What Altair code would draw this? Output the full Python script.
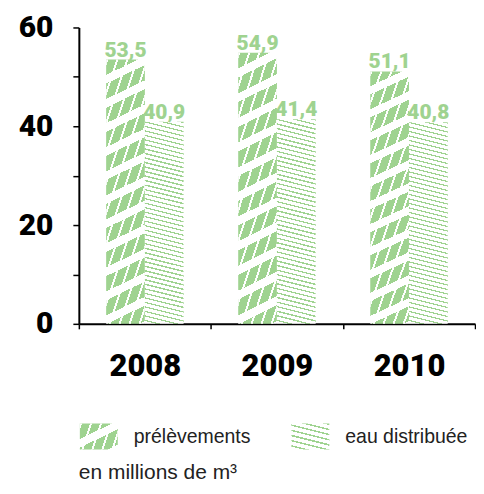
import math
import altair as alt
import pandas as pd

# ---- data ----
years = ["2008", "2009", "2010"]
prelevements = [53.5, 54.9, 51.1]
eau_distribuee = [40.9, 41.4, 40.8]
series = ["prélèvements", "eau distribuée"]
subtitle = "en millions de m³"

# ---- style ----
GREEN = "#9fd390"
WHITE = "#ffffff"
CLEAR = "rgba(255,255,255,0)"
HEAVY = "Roboto, Liberation Sans, sans-serif"
SANS = "Liberation Sans, Arial, sans-serif"
PLOT_W, PLOT_H = 397, 297
PX_PER_UNIT = PLOT_H / 60.0


def stripes(W, H, slope, period, frac, c_on, c_off):
    """Linear gradient (bbox units) that mimics a hatch of parallel stripes.
    slope: pixel dy/dx of the stripes (y down); period: perpendicular pixels."""
    vx, vy = -slope * W / H, 1.0
    corners = [(0, 0), (1, 0), (0, 1), (1, 1)]
    proj = [vx * u + vy * w for u, w in corners]
    pmin, pmax = min(proj), max(proj)
    u0, w0 = corners[proj.index(pmin)]
    L = pmax - pmin
    n2 = vx * vx + vy * vy
    x2 = u0 + vx * L / n2
    y2 = w0 + vy * L / n2
    g = math.hypot(vx / W, vy / H)
    dt = g * period / L
    stops = []
    k = 0
    while k * dt < 1:
        s = k * dt
        m = min(s + frac * dt, 1.0)
        e = min(s + dt, 1.0)
        stops += [
            {"offset": round(s, 5), "color": c_on},
            {"offset": round(m, 5), "color": c_on},
            {"offset": round(m, 5), "color": c_off},
            {"offset": round(e, 5), "color": c_off},
        ]
        k += 1
    return {"gradient": "linear", "x1": u0, "y1": w0, "x2": x2, "y2": y2, "stops": stops}


BAR_W = PLOT_W / 3 * 0.293
H_PREL = sum(prelevements) / 3 * PX_PER_UNIT
H_EAU = sum(eau_distribuee) / 3 * PX_PER_UNIT

g_prel = stripes(BAR_W, H_PREL, -0.48, 21.6, 0.64, GREEN, WHITE)
g_prel_cut = stripes(BAR_W, H_PREL, -3.0, 9.5, 0.2, WHITE, CLEAR)
g_eau = stripes(BAR_W, H_EAU, 0.25, 4.4, 0.3, GREEN, WHITE)

SW, SH = 38, 26
s_prel = stripes(SW, SH, -0.48, 21.6, 0.64, GREEN, WHITE)
s_prel_cut = stripes(SW, SH, -3.0, 9.5, 0.2, WHITE, CLEAR)
s_eau = stripes(SW, SH, 0.25, 5.0, 0.3, GREEN, WHITE)

rows = []
for i, y in enumerate(years):
    rows.append({"year": y, "series": series[0], "value": prelevements[i]})
    rows.append({"year": y, "series": series[1], "value": eau_distribuee[i]})
df = pd.DataFrame(rows)

x_enc = alt.X(
    "year:N",
    title=None,
    scale=alt.Scale(paddingInner=0, paddingOuter=0),
    axis=alt.Axis(
        labelAngle=0,
        labelFont=HEAVY,
        labelFontSize=31,
        labelFontWeight=900,
        labelColor="black",
        labelPadding=23,
        tickBand="extent",
        tickSize=5,
        tickWidth=1.5,
        tickColor="black",
        domainWidth=2,
        domainColor="black",
    ),
)
xo_enc = alt.XOffset(
    "series:N", scale=alt.Scale(domain=series, paddingInner=0, paddingOuter=0.705)
)
y_enc = alt.Y(
    "value:Q",
    title=None,
    scale=alt.Scale(domain=[0, 60], nice=False),
    axis=alt.Axis(
        values=[0, 10, 20, 30, 40, 50, 60],
        labelExpr="datum.value % 20 === 0 ? datum.label : ''",
        grid=False,
        labelFont=HEAVY,
        labelFontSize=30,
        labelFontWeight=900,
        labelColor="black",
        labelPadding=20,
        tickSize=6,
        tickWidth=1.5,
        tickColor="black",
        domainWidth=2,
        domainColor="black",
        minExtent=66,
    ),
)

base = alt.Chart(df).encode(x=x_enc, xOffset=xo_enc, y=y_enc)

prel = base.transform_filter(alt.datum.series == series[0])
eau = base.transform_filter(alt.datum.series == series[1])

bars = alt.layer(
    prel.mark_bar(fill=g_prel),
    prel.mark_bar(fill=g_prel_cut),
    eau.mark_bar(fill=g_eau),
    base.transform_calculate(
        label="replace(format(datum.value, '.1f'), '.', ',')"
    ).mark_text(
        baseline="alphabetic",
        dy=-3,
        font=HEAVY,
        fontSize=21,
        fontWeight=900,
        color=GREEN,
    ).encode(text="label:N"),
).properties(width=PLOT_W, height=PLOT_H)

# ---- legend built from the series list ----
leg = alt.Chart(pd.DataFrame({"series": series})).encode(
    x=alt.X(
        "series:N",
        scale=alt.Scale(type="point", domain=series, range=[20, 232], padding=0),
        axis=None,
    )
)
leg_prel = leg.transform_filter(alt.datum.series == series[0])
leg_eau = leg.transform_filter(alt.datum.series == series[1])
legend = alt.layer(
    leg_prel.mark_rect(width=SW, fill=s_prel),
    leg_prel.mark_rect(width=SW, fill=s_prel_cut),
    leg_eau.mark_rect(width=SW, fill=s_eau),
    leg.mark_text(align="left", dx=35, font=SANS, fontSize=19.5, color="#222222").encode(
        text="series:N"
    ),
).properties(
    width=PLOT_W,
    height=SH,
    title=alt.TitleParams(
        subtitle,
        orient="bottom",
        anchor="start",
        offset=12,
        font=SANS,
        fontSize=21,
        fontWeight="normal",
        color="#222222",
    ),
)

chart = (
    alt.vconcat(bars, legend, spacing=42)
    .properties(padding={"left": 5, "top": 4, "right": 0, "bottom": 0})
    .configure_view(stroke=None)
)

chart.save("out.html", embed_options={"renderer": "svg", "actions": False})
